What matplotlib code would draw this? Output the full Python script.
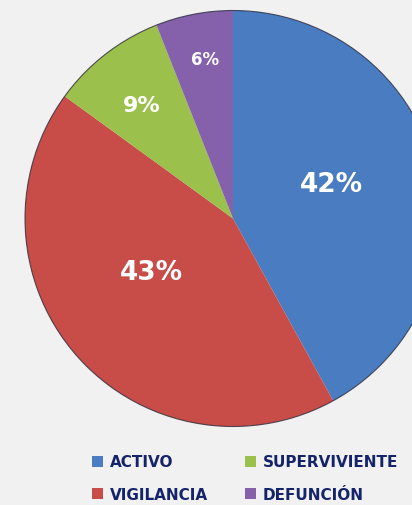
import matplotlib.pyplot as plt
import numpy as np
from matplotlib.patches import Patch, Circle

# Datos
categorias = ['ACTIVO', 'VIGILANCIA', 'SUPERVIVIENTE', 'DEFUNCIÓN']
porcentajes = [42, 43, 9, 6]
colores = ['#4a7cc2', '#c84d48', '#9cc04c', '#8561ab']
# posicion de las etiquetas: distancia al centro y desvio angular (grados)
dist_etiqueta = [0.50, 0.47, 0.70, 0.78]
desvio_ang = [5, -8, 1, -1]
tam_etiqueta = [19, 19, 16, 12]

W, H = 412, 506
cx, cy, R = 233, 219.5, 208  # centro y radio en pixeles

fig = plt.figure(figsize=(W / 100, H / 100), dpi=100, facecolor='#f1f1f1')
ax = fig.add_axes([0, 0, 1, 1])
ax.set_facecolor('#f1f1f1')

wedges, textos = ax.pie(porcentajes, colors=colores, startangle=90,
                        counterclock=False, radius=1,
                        wedgeprops=dict(linewidth=0))
ax.add_patch(Circle((0, 0), 1, fill=False, edgecolor='#2a2a3a',
                    linewidth=0.8, alpha=0.8))

for w, d, da, s, v in zip(wedges, dist_etiqueta, desvio_ang, tam_etiqueta, porcentajes):
    ang = np.deg2rad((w.theta1 + w.theta2) / 2 + da)
    ax.text(d * np.cos(ang), d * np.sin(ang), f'{v}%', color='white',
            fontsize=s, fontweight='bold', ha='center', va='center')

ax.set_xlim(-cx / R, (W - cx) / R)
ax.set_ylim(-(H - cy) / R, cy / R)
ax.set_aspect('equal')
ax.axis('off')

handles = [Patch(facecolor=c, edgecolor='none', label=l)
           for c, l in zip(colores, categorias)]
leg = fig.legend(handles=handles, ncol=2, loc='lower left',
                 bbox_to_anchor=(92 / W, 3 / H), frameon=False,
                 prop=dict(weight='bold', size=11),
                 handlelength=0.72, handleheight=0.72, handletextpad=0.45,
                 columnspacing=2.4, labelspacing=1.15,
                 borderpad=0, borderaxespad=0)
for t in leg.get_texts():
    t.set_color('#15246a')

fig.savefig('out.png', dpi=100, facecolor=fig.get_facecolor())
